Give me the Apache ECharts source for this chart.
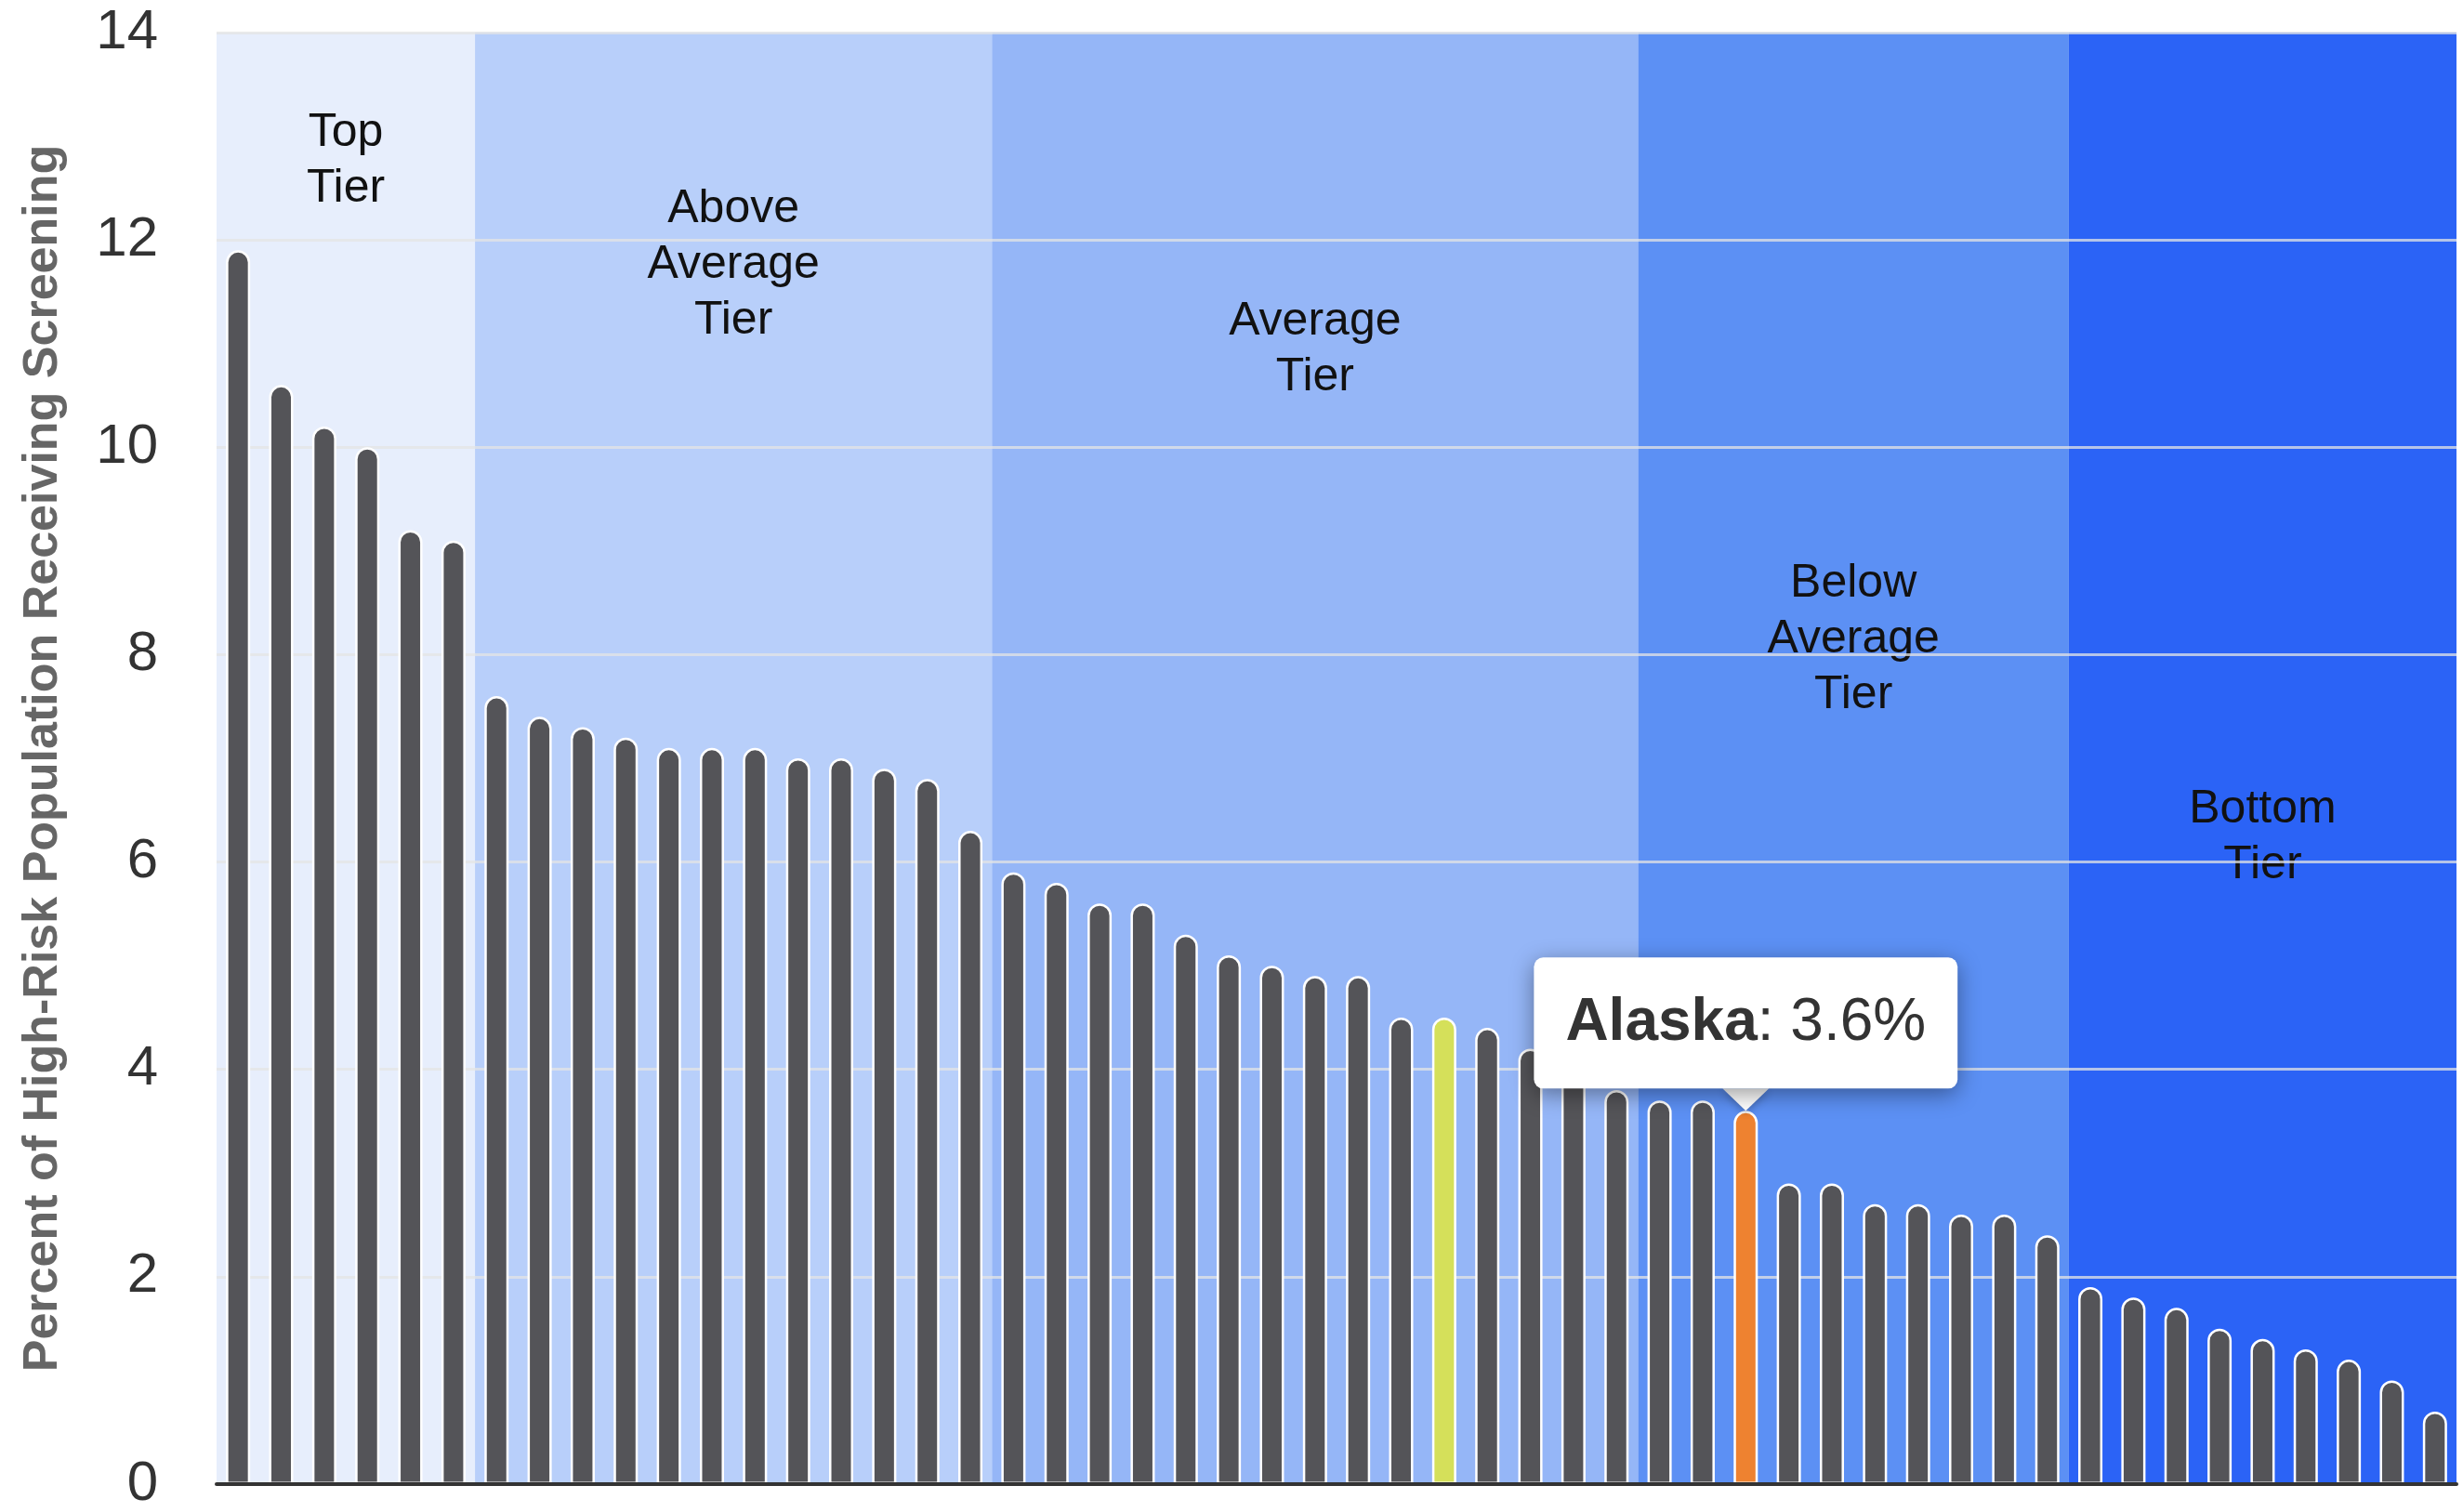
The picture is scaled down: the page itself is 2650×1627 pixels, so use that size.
<!DOCTYPE html>
<html>
<head>
<meta charset="utf-8">
<script src="https://cdn.jsdelivr.net/npm/echarts@6/dist/echarts.min.js"></script>
<style>
  html, body { margin: 0; padding: 0; background: #fff; }
  #chart { width: 2650px; height: 1627px; }
</style>
</head>
<body>
<div id="chart"></div>
<script>
// ---------------- data ----------------
const categories = [
  'State 1','State 2','State 3','State 4','State 5','State 6',
  'State 7','State 8','State 9','State 10','State 11','State 12',
  'State 13','State 14','State 15','State 16','State 17','State 18',
  'State 19','State 20','State 21','State 22','State 23','State 24',
  'State 25','State 26','State 27','State 28','State 29','State 30',
  'State 31','State 32','State 33','State 34','State 35','Alaska',
  'State 37','State 38','State 39','State 40','State 41','State 42',
  'State 43','State 44','State 45','State 46','State 47','State 48',
  'State 49','State 50','State 51','State 52'
];
const values = [
  11.9, 10.6, 10.2, 10.0, 9.2, 9.1,
  7.6, 7.4, 7.3, 7.2, 7.1, 7.1, 7.1, 7.0, 7.0, 6.9, 6.8, 6.3,
  5.9, 5.8, 5.6, 5.6, 5.3, 5.1, 5.0, 4.9, 4.9, 4.5, 4.5, 4.4, 4.2, 4.0, 3.8,
  3.7, 3.7, 3.6, 2.9, 2.9, 2.7, 2.7, 2.6, 2.6, 2.4,
  1.9, 1.8, 1.7, 1.5, 1.4, 1.3, 1.2, 1.0, 0.7
];
const tierNames = ['Top\nTier', 'Above\nAverage\nTier', 'Average\nTier', 'Below\nAverage\nTier', 'Bottom\nTier'];
const tierSizes = [6, 12, 15, 10, 9];
const yTickMin = 0, yTickMax = 14, yTickStep = 2;
const highlightedCategory = 'State 29';
const tooltipCategory = 'Alaska';
const yAxisTitle = 'Percent of High-Risk Population Receiving Screening';

// ---------------- styles ----------------
const FONT = '"Liberation Sans", Arial, Helvetica, sans-serif';
const tierColors = ['#E7EEFC', '#B8CFFA', '#95B6F7', '#5C90F4', '#2B63F6'];
const tierLabelDistance = [78, 160, 281, 563, 806];
const barColor = '#545458';
const highlightColor = '#D5E05A';
const tooltipBarColor = '#EE8230';

// ---------------- build ----------------
const barData = values.map((v, i) => {
  const name = categories[i];
  let color = barColor;
  if (name === highlightedCategory) color = highlightColor;
  if (name === tooltipCategory) color = tooltipBarColor;
  return { value: v, itemStyle: { color } };
});

let start = 0;
const areas = tierNames.map((t, k) => {
  const a = [
    {
      name: t,
      xAxis: start,
      itemStyle: { color: tierColors[k] },
      label: {
        show: true,
        position: 'insideTop',
        distance: tierLabelDistance[k],
        fontSize: 50,
        lineHeight: 60,
        color: '#111',
        fontFamily: FONT
      }
    },
    { xAxis: start + tierSizes[k] }
  ];
  start += tierSizes[k];
  return a;
});

const tipIdx = categories.indexOf(tooltipCategory);
const tipVal = values[tipIdx];

const option = {
  animation: false,
  backgroundColor: '#fff',
  grid: { left: 233, right: 7, top: 35, bottom: 27 },
  xAxis: [
    {
      type: 'category',
      data: categories,
      z: 4,
      axisLine: { show: true, lineStyle: { color: '#333', width: 4 } },
      axisTick: { show: false },
      axisLabel: { show: false },
      splitLine: { show: false }
    },
    {
      type: 'value',
      min: 0,
      max: categories.length,
      show: false
    }
  ],
  yAxis: {
    type: 'value',
    min: yTickMin,
    max: yTickMax,
    interval: yTickStep,
    z: 2,
    name: yAxisTitle,
    nameLocation: 'middle',
    nameGap: 160,
    nameTextStyle: { fontSize: 52, fontWeight: 'bold', color: '#666', fontFamily: FONT },
    axisLine: { show: false },
    axisTick: { show: false },
    axisLabel: { fontSize: 60, color: '#333', margin: 63, fontFamily: FONT },
    splitLine: { show: true, lineStyle: { color: 'rgba(228,228,228,0.75)', width: 3 } }
  },
  series: [
    {
      type: 'line',
      xAxisIndex: 1,
      yAxisIndex: 0,
      z: 1,
      data: [],
      silent: true,
      markArea: { silent: true, z: 1, data: areas }
    },
    {
      type: 'bar',
      xAxisIndex: 0,
      yAxisIndex: 0,
      z: 3,
      barWidth: 26,
      data: barData,
      itemStyle: {
        borderColor: '#fff',
        borderWidth: 2.5,
        borderRadius: [13, 13, 0, 0]
      },
      markPoint: {
        silent: true,
        z: 6,
        symbol: 'path://M0 0 L100 0 L50 48 Z',
        symbolSize: [50, 24],
        symbolKeepAspect: false,
        symbolOffset: [0, -12],
        itemStyle: { color: '#fff', shadowBlur: 8, shadowColor: 'rgba(0,0,0,0.25)', shadowOffsetY: 3 },
        label: {
          show: true,
          position: 'top',
          distance: 0,
          backgroundColor: '#fff',
          borderRadius: 10,
          padding: [35, 34, 34, 34],
          shadowBlur: 24,
          shadowColor: 'rgba(0,0,0,0.4)',
          shadowOffsetY: 6,
          formatter: () => '{b|' + tooltipCategory + '}{r|: ' + tipVal.toFixed(1) + '%}',
          rich: {
            b: { fontSize: 64, fontWeight: 'bold', color: '#333', lineHeight: 72, fontFamily: FONT },
            r: { fontSize: 64, color: '#333', lineHeight: 72, fontFamily: FONT }
          }
        },
        data: [{ coord: [tipIdx, tipVal] }]
      }
    }
  ]
};

const chart = echarts.init(document.getElementById('chart'), null, { renderer: 'canvas' });
chart.setOption(option);
</script>
</body>
</html>
